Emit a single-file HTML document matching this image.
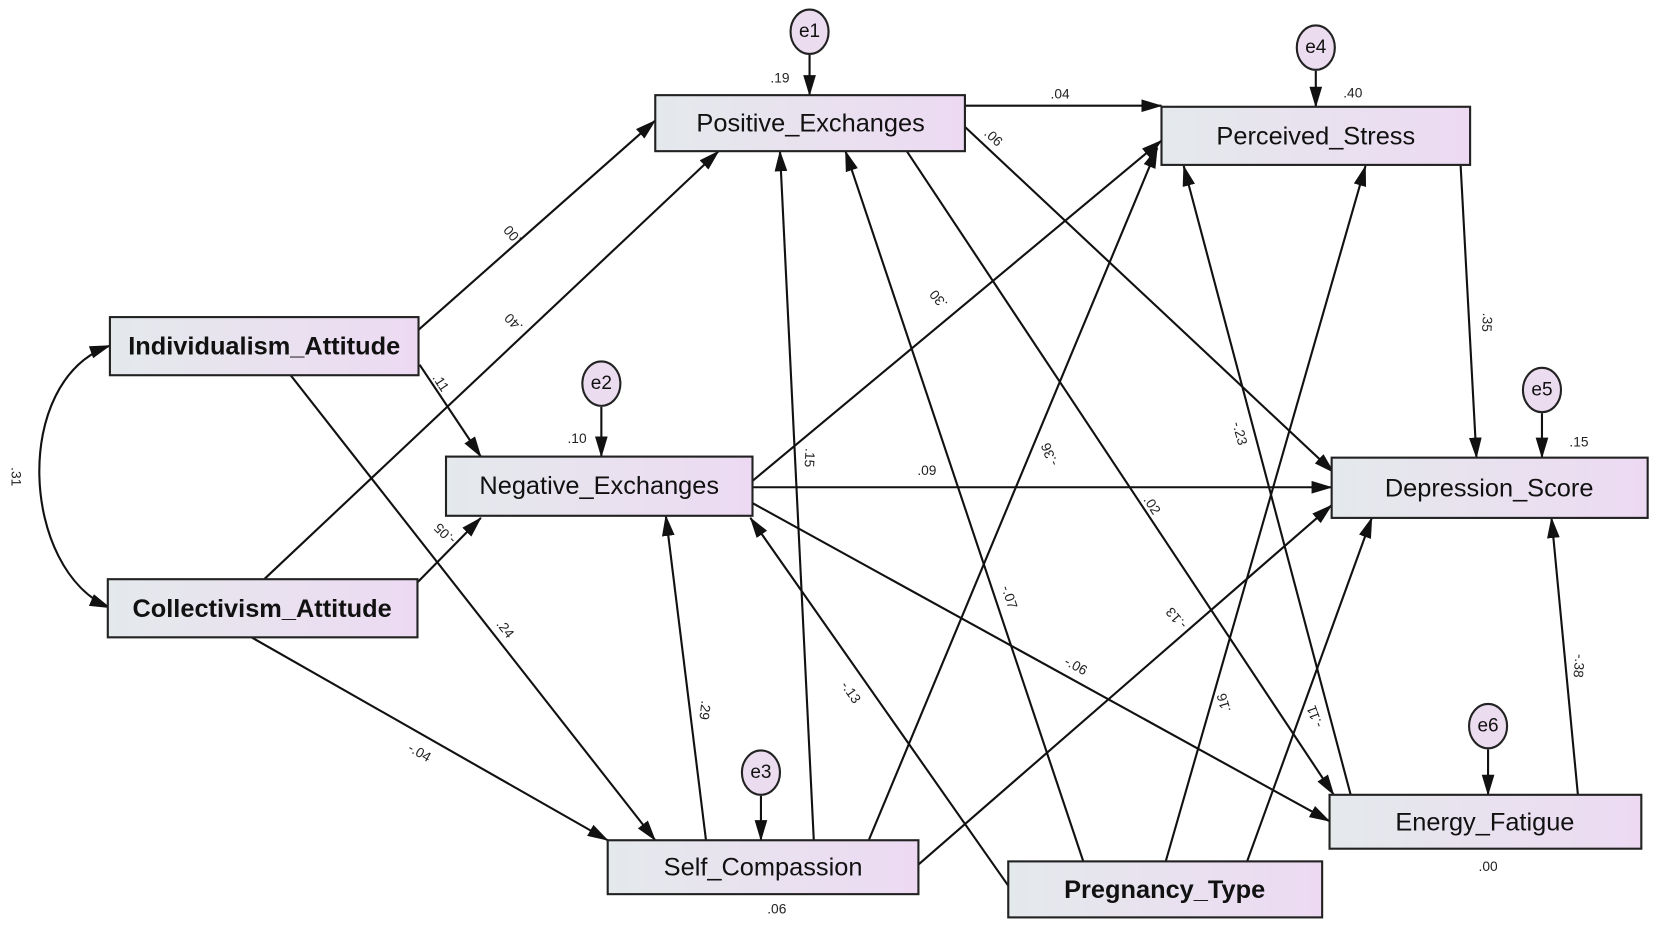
<!DOCTYPE html>
<html><head><meta charset="utf-8"><style>
html,body{margin:0;padding:0;background:#fff;}
svg{display:block}
.b{fill:url(#g);stroke:#222;stroke-width:2}
.t{font-family:"Liberation Sans",sans-serif;font-size:24px;fill:#111;text-anchor:middle;dominant-baseline:central}
.tb{font-weight:bold}
.l{font-family:"Liberation Sans",sans-serif;font-size:13px;fill:#222;text-anchor:middle;dominant-baseline:central}
line,path.c{stroke:#111;stroke-width:2;fill:none;marker-end:url(#a)}
.e{fill:#ecdcf0;stroke:#222;stroke-width:2}
.et{font-family:"Liberation Sans",sans-serif;font-size:18px;fill:#111;text-anchor:middle;dominant-baseline:central}
</style></head><body>
<svg width="1654" height="928" viewBox="0 0 1565 878" xmlns="http://www.w3.org/2000/svg">
<defs>
<linearGradient id="g" x1="0" x2="1" y1="0" y2="0"><stop offset="0" stop-color="#e4e9ec"/><stop offset="1" stop-color="#eddaf2"/></linearGradient>
<marker id="a" markerUnits="userSpaceOnUse" markerWidth="20" markerHeight="12" refX="19" refY="6" orient="auto"><path d="M0,0 L20,6 L0,12 z" fill="#111"/></marker>
<marker id="s" markerUnits="userSpaceOnUse" markerWidth="20" markerHeight="12" refX="1" refY="6" orient="auto"><path d="M20,0 L0,6 L20,12 z" fill="#111"/></marker>
</defs>

<!-- connectors -->
<path class="c" d="M104,575 C20,540 10,360 104,327" style="marker-start:url(#s)"/>
<line x1="396" y1="312" x2="620" y2="114"/>
<line x1="250" y1="548" x2="680" y2="143"/>
<line x1="397" y1="345" x2="455" y2="432"/>
<line x1="395" y1="551" x2="455" y2="490"/>
<line x1="275" y1="355" x2="620" y2="795"/>
<line x1="238" y1="603" x2="575" y2="795"/>
<line x1="913" y1="100" x2="1099" y2="100"/>
<line x1="913" y1="120" x2="1262" y2="447"/>
<line x1="858" y1="143" x2="1262" y2="752"/>
<line x1="712" y1="461" x2="1260" y2="461"/>
<line x1="712" y1="455" x2="1099" y2="133"/>
<line x1="712" y1="476" x2="1258" y2="777"/>
<line x1="668" y1="795" x2="630" y2="488"/>
<line x1="770" y1="795" x2="738" y2="143"/>
<line x1="822" y1="795" x2="1095" y2="140"/>
<line x1="869" y1="818" x2="1260" y2="478"/>
<line x1="954" y1="838" x2="710" y2="490"/>
<line x1="1025" y1="815" x2="800" y2="143"/>
<line x1="1103" y1="815" x2="1292" y2="157"/>
<line x1="1180" y1="815" x2="1298" y2="490"/>
<line x1="1278" y1="752" x2="1120" y2="157"/>
<line x1="1493" y1="752" x2="1468" y2="490"/>
<line x1="1382" y1="156" x2="1397" y2="433"/>
<line x1="766" y1="52" x2="766" y2="90"/>
<line x1="1245" y1="67" x2="1245" y2="101"/>
<line x1="569" y1="385" x2="569" y2="432"/>
<line x1="720" y1="753" x2="720" y2="795"/>
<line x1="1459" y1="391" x2="1459" y2="433"/>
<line x1="1408" y1="709" x2="1408" y2="752"/>

<!-- error circles -->
<ellipse class="e" cx="766" cy="30" rx="18" ry="21"/><text class="et" x="766" y="30">e1</text>
<ellipse class="e" cx="1245" cy="45" rx="18" ry="21"/><text class="et" x="1245" y="45">e4</text>
<ellipse class="e" cx="569" cy="363" rx="18" ry="21"/><text class="et" x="569" y="363">e2</text>
<ellipse class="e" cx="720" cy="731" rx="18" ry="21"/><text class="et" x="720" y="731">e3</text>
<ellipse class="e" cx="1459" cy="369" rx="18" ry="21"/><text class="et" x="1459" y="369">e5</text>
<ellipse class="e" cx="1408" cy="687" rx="18" ry="21"/><text class="et" x="1408" y="687">e6</text>

<!-- boxes -->
<rect class="b" x="104" y="300" width="292" height="55"/><text class="t tb" x="250" y="328">Individualism_Attitude</text>
<rect class="b" x="102" y="548" width="293" height="55"/><text class="t tb" x="248" y="576">Collectivism_Attitude</text>
<rect class="b" x="620" y="90" width="293" height="53"/><text class="t" x="767" y="117">Positive_Exchanges</text>
<rect class="b" x="422" y="432" width="290" height="56"/><text class="t" x="567" y="460">Negative_Exchanges</text>
<rect class="b" x="1099" y="101" width="292" height="55"/><text class="t" x="1245" y="129">Perceived_Stress</text>
<rect class="b" x="1260" y="433" width="299" height="57"/><text class="t" x="1409" y="462">Depression_Score</text>
<rect class="b" x="575" y="795" width="294" height="51"/><text class="t" x="722" y="821">Self_Compassion</text>
<rect class="b" x="954" y="815" width="297" height="53"/><text class="t tb" x="1102" y="842">Pregnancy_Type</text>
<rect class="b" x="1258" y="752" width="295" height="51"/><text class="t" x="1405" y="778">Energy_Fatigue</text>

<!-- labels -->
<text class="l" transform="translate(15,451) rotate(90)">.31</text>
<text class="l" transform="translate(485,222) rotate(-130)">.00</text>
<text class="l" transform="translate(486,305) rotate(-134)">.40</text>
<text class="l" transform="translate(417,362) rotate(57)">.11</text>
<text class="l" transform="translate(421,505) rotate(-135)">-.05</text>
<text class="l" transform="translate(478,595) rotate(52)">.24</text>
<text class="l" transform="translate(397,712) rotate(30)">-.04</text>
<text class="l" transform="translate(1003,89)">.04</text>
<text class="l" transform="translate(940,130) rotate(43)">.06</text>
<text class="l" transform="translate(1090,478) rotate(57)">.02</text>
<text class="l" transform="translate(877,445)">.09</text>
<text class="l" transform="translate(888,283) rotate(-130)">.30</text>
<text class="l" transform="translate(1018,630) rotate(29)">-.06</text>
<text class="l" transform="translate(667,672) rotate(97)">.29</text>
<text class="l" transform="translate(766,433) rotate(93)">.15</text>
<text class="l" transform="translate(993,430) rotate(-112)">-.36</text>
<text class="l" transform="translate(1113,585) rotate(-131)">-.13</text>
<text class="l" transform="translate(805,655) rotate(55)">-.13</text>
<text class="l" transform="translate(955,565) rotate(72)">-.07</text>
<text class="l" transform="translate(1158,665) rotate(-106)">.16</text>
<text class="l" transform="translate(1244,678) rotate(-110)">-.11</text>
<text class="l" transform="translate(1173,410) rotate(75)">-.23</text>
<text class="l" transform="translate(1494,630) rotate(95)">-.38</text>
<text class="l" transform="translate(1407,305) rotate(93)">.35</text>
<text class="l" x="738" y="74">.19</text>
<text class="l" x="1280" y="88">.40</text>
<text class="l" x="546" y="415">.10</text>
<text class="l" x="735" y="860">.06</text>
<text class="l" x="1494" y="418">.15</text>
<text class="l" x="1408" y="820">.00</text>
</svg>
</body></html>
